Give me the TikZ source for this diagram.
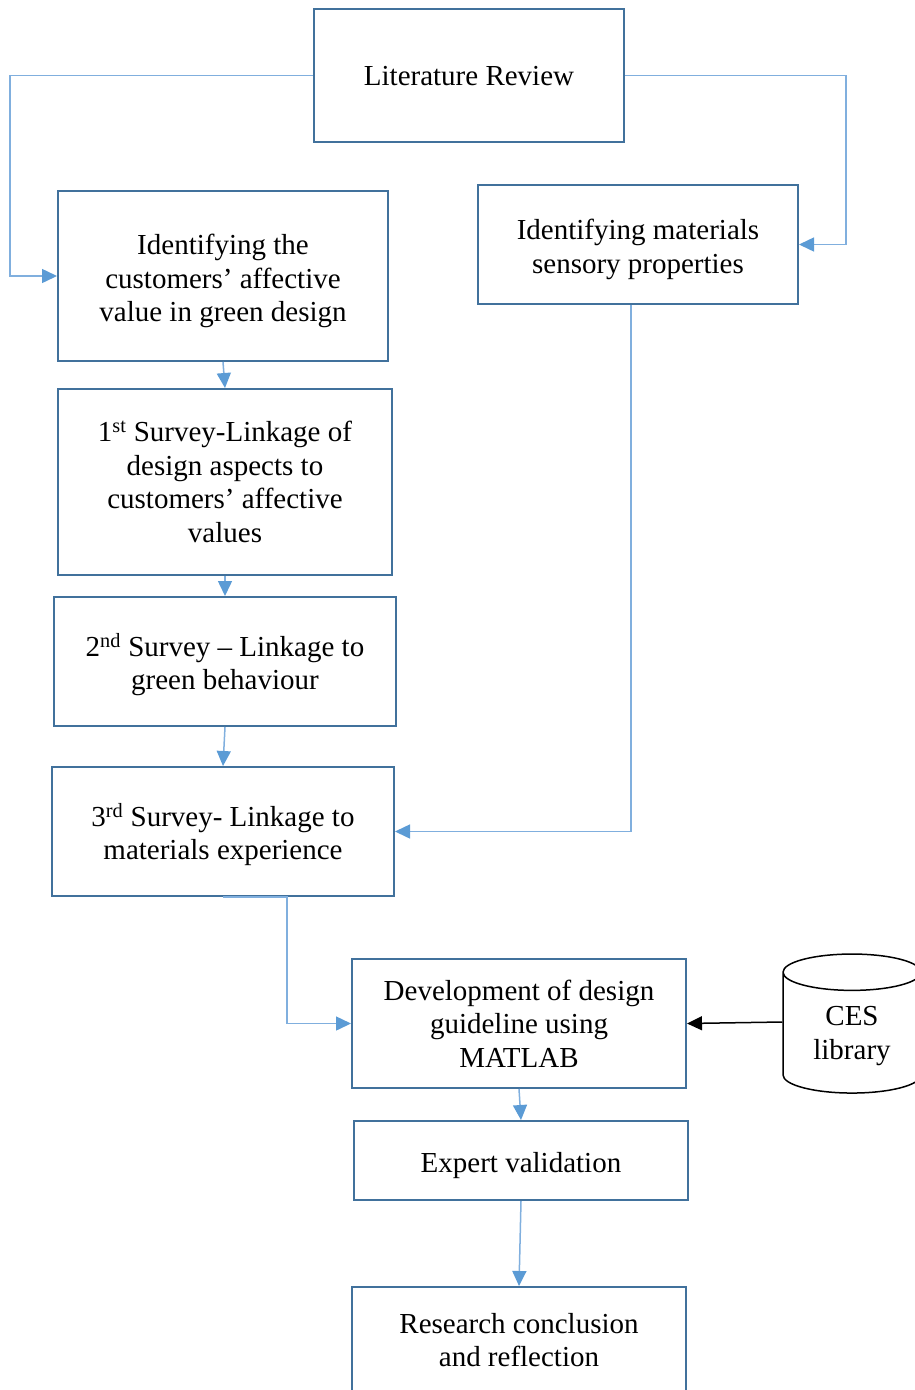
\documentclass[tikz,border=0pt]{standalone}
\usepackage{fontspec}
\setmainfont{Liberation Serif}
\usetikzlibrary{arrows.meta,shapes.geometric}
\definecolor{boxblue}{HTML}{41719C}
\definecolor{linkblue}{HTML}{80AFDE}
\definecolor{tipblue}{HTML}{5B9BD5}

\tikzset{
    stage/.style={draw=boxblue, line width=2pt, align=center, inner sep=0pt,
        text depth=0pt, font=\fontsize{29}{33.5}\selectfont},
    link/.style={draw=linkblue, line width=1.5pt,
        -{Triangle[length=15pt,width=14pt,fill=tipblue,color=tipblue]}},
}

\begin{document}
\begin{tikzpicture}[x=1pt,y=-1pt]
    \useasboundingbox (0,0) rectangle (914,1390);

    \node[stage, minimum width=310pt, minimum height=133pt] (lit) at (469,75.5) {Literature Review};
    \node[stage, minimum width=330pt, minimum height=170pt] (cust) at (223,276) {\rule{0pt}{24pt}Identifying the\\customers’ affective\\value in green design};
    \node[stage, minimum width=320pt, minimum height=119pt] (sens) at (638,244.5) {\rule{0pt}{24pt}Identifying materials\\sensory properties};
    \node[stage, minimum width=334pt, minimum height=186pt] (s1) at (225,482) {1\textsuperscript{st} Survey-Linkage of\\design aspects to\\customers’ affective\\values};
    \node[stage, minimum width=342pt, minimum height=129pt] (s2) at (225,661.5) {2\textsuperscript{nd} Survey – Linkage to\\green behaviour};
    \node[stage, minimum width=342pt, minimum height=129pt] (s3) at (223,831.5) {3\textsuperscript{rd} Survey- Linkage to\\materials experience};
    \node[stage, minimum width=334pt, minimum height=129pt] (dev) at (519,1023.5) {Development of design\\guideline using\\MATLAB};
    \node[stage, minimum width=334pt, minimum height=79pt] (exp) at (521,1160.5) {\rule{0pt}{24pt}Expert validation};
    \node[stage, minimum width=334pt, minimum height=106pt] (res) at (519,1340) {Research conclusion\\and reflection};
    \node[cylinder, shape border rotate=90, draw, line width=1.5pt, aspect=0.47,
        minimum width=138pt, minimum height=139pt, align=center, inner sep=0pt,
        text depth=0pt, font=\fontsize{29}{33.5}\selectfont] (ces) at (852,1033) {CES\\library};

    \draw[link] (lit.west) -| ([xshift=-47pt]cust.west) -- (cust.west);
    \draw[link] (lit.east) -| ([xshift=47pt]sens.east) -- (sens.east);
    \draw[link] ([xshift=-7pt]sens.south) |- (s3.east);
    \draw[link] (s3.south) -- ++(64,0) |- (dev.west);

    \path
    (cust.south) edge [link] (s1.north)
    (s1.south) edge [link] (s2.north)
    (s2.south) edge [link] (s3.north)
    (dev.south) edge [link] (exp.north)
    (exp.south) edge [link] (res.north)
    ([yshift=11pt]ces.west) edge [black, line width=1.5pt, -{Triangle[length=15pt,width=14pt]}] (dev.east);
\end{tikzpicture}
\end{document}
